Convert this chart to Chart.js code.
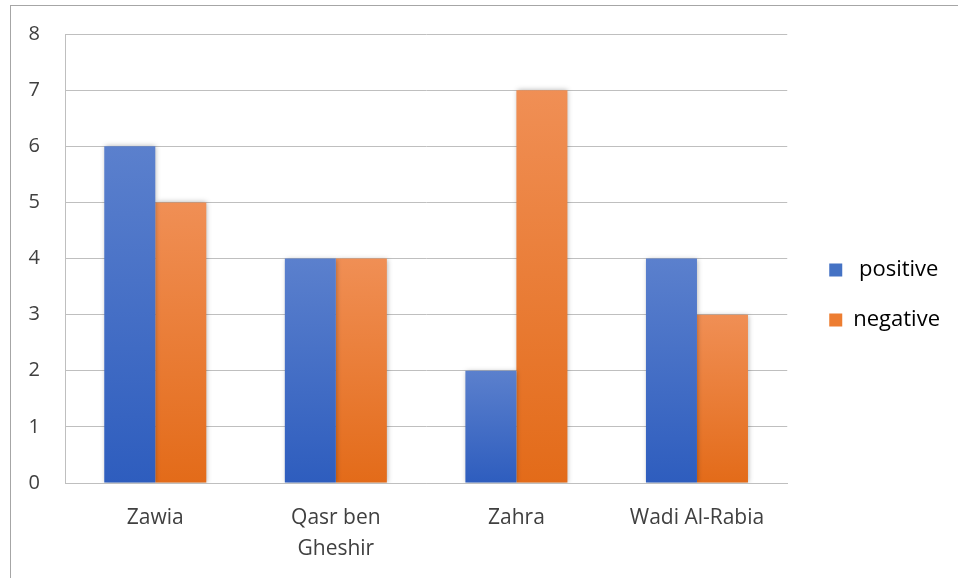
<!DOCTYPE html>
<html>
<head>
<meta charset="utf-8">
<script src="https://cdn.jsdelivr.net/npm/chart.js@4/dist/chart.umd.min.js"></script>
<style>
  body { margin: 0; overflow: hidden; background: #fff; }
  #frame { position: absolute; left: 10px; top: 5px; width: 1000px; height: 700px; border: 1px solid #a6a6a6; }
  #wrap { position: absolute; left: 0; top: 0; width: 958px; height: 578px; }
</style>
</head>
<body>
<div id="frame"></div>
<div id="wrap"><canvas id="chart"></canvas></div>
<script>
const categories = ["Zawia", ["Qasr ben", "Gheshir"], "Zahra", "Wadi Al-Rabia"];
const positive = [6, 4, 2, 4];
const negative = [5, 4, 7, 3];
const yTicks = { min: 0, max: 8, step: 1 };

// vertical gradient for each bar, lighter on top like the office style
const barGradient = (top, bottom) => (ctx) => {
  const chart = ctx.chart;
  const y = chart.scales.y;
  if (!y || ctx.parsed === undefined) return bottom;
  const y0 = y.getPixelForValue(ctx.parsed.y);
  const y1 = y.getPixelForValue(0);
  const g = chart.ctx.createLinearGradient(0, y0, 0, y1 === y0 ? y0 + 1 : y1);
  g.addColorStop(0, top);
  g.addColorStop(1, bottom);
  return g;
};

const barShadow = {
  id: "barShadow",
  beforeDatasetsDraw(chart) {
    const c = chart.ctx;
    c.save();
    c.shadowColor = "rgba(0,0,0,0.3)";
    c.shadowBlur = 5;
    c.shadowOffsetX = 1;
    c.shadowOffsetY = 0;
  },
  afterDatasetsDraw(chart) {
    chart.ctx.restore();
  }
};

// nudge the legend a bit right and up
const legendNudge = {
  id: "legendNudge",
  afterLayout(chart) {
    const lg = chart.legend;
    lg.left += 14;
    lg.right += 14;
    lg.top -= 11;
    lg.bottom -= 11;
  }
};

new Chart(document.getElementById("chart"), {
  type: "bar",
  data: {
    labels: categories,
    datasets: [{
      label: " positive",
      data: positive,
      backgroundColor: barGradient("#5b80cd", "#2e5dbe"),
      legendColor: "#4472c4"
    }, {
      label: "negative",
      data: negative,
      backgroundColor: barGradient("#f08f55", "#e36b19"),
      legendColor: "#ed7d31"
    }]
  },
  options: {
    responsive: true,
    maintainAspectRatio: false,
    animation: false,
    layout: { padding: { top: 34, right: 22, bottom: 0, left: 0 } },
    datasets: { bar: { categoryPercentage: 0.565, barPercentage: 1 } },
    scales: {
      x: {
        grid: { display: false },
        border: { display: true, color: "#bfbfbf" },
        ticks: { color: "#404040", font: { family: "Open Sans", size: 21, lineHeight: 1.45 }, padding: 12, maxRotation: 0 },
        afterFit: (s) => { s.height = 95; }
      },
      y: {
        min: yTicks.min,
        max: yTicks.max,
        grid: { color: "#bfbfbf", drawTicks: false },
        border: { display: true, color: "#bfbfbf" },
        ticks: { stepSize: yTicks.step, color: "#404040", font: { family: "Open Sans", size: 20, lineHeight: 1 }, padding: 25 },
        afterFit: (s) => { s.width = 65; s.paddingTop = 0; }
      }
    },
    plugins: {
      tooltip: { enabled: false },
      legend: {
        position: "right",
        labels: {
          color: "#404040",
          font: { family: "Open Sans", size: 22 },
          boxWidth: 13,
          boxHeight: 13,
          padding: 28,
          generateLabels: (chart) => chart.data.datasets.map((d, i) => ({
            text: d.label,
            fillStyle: d.legendColor,
            strokeStyle: d.legendColor,
            lineWidth: 0,
            datasetIndex: i
          }))
        }
      }
    }
  },
  plugins: [barShadow, legendNudge]
});
</script>
</body>
</html>
